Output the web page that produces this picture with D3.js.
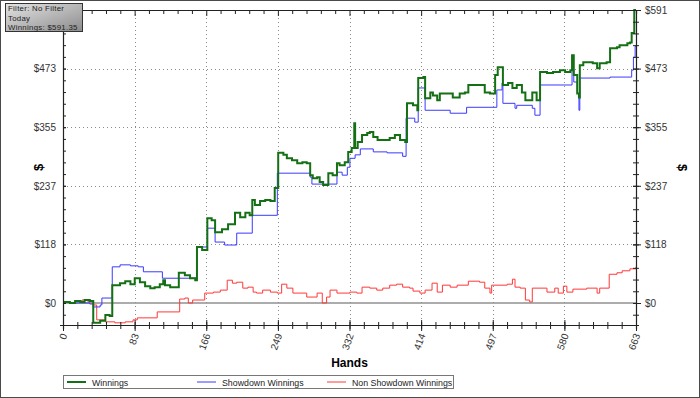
<!DOCTYPE html>
<meta charset="utf-8">
<script src="https://d3js.org/d3.v7.min.js"></script>
<style>
  body { margin: 0; background: #fff; }
  svg { display: block; font-family: "Liberation Sans", Arial, sans-serif; }
</style>
<div id="my_dataviz"></div>
<script>

// ---- data (hand number, cumulative $) ----
var winHands = [0,8,14,20,25,31,35,43,49,54,57,66,72,78,83,89,95,101,106,112,116,118,124,133,134,141,147,153,155,161,167,172,176,184,191,199,205,211,216,219,222,228,234,240,245,249,255,259,265,271,277,282,286,289,294,297,301,307,312,317,320,326,330,334,337,338,341,346,352,355,359,364,370,378,384,390,396,398,405,410,411,417,419,425,428,433,436,444,451,459,465,469,482,488,494,500,503,508,509,515,520,525,531,535,540,543,548,552,560,567,575,581,587,589,591,595,597,598,602,610,613,618,621,629,633,641,644,653,656,658,661,663];
var winValues = [2,0,4,2,6,4,-40,-36,-24,-26,36,40,44,38,50,42,34,30,32,38,46,36,32,32,61,56,50,46,113,107,171,167,143,149,159,182,173,182,177,208,198,206,208,206,232,303,299,292,288,282,284,282,258,252,254,244,238,262,258,282,278,284,305,313,363,313,325,339,343,345,335,329,329,333,339,329,325,403,399,389,454,456,413,425,419,409,423,423,415,423,425,440,440,425,423,460,476,476,440,444,434,440,425,409,409,425,409,466,464,466,470,466,470,500,460,423,415,480,486,486,484,474,484,486,514,516,520,524,526,545,591.35,591.35];

var sdHands = [0,8,20,31,35,43,45,57,66,78,87,93,115,155,167,176,187,201,219,248,286,288,317,323,329,332,338,344,359,375,393,397,407,411,419,448,467,502,508,509,523,525,543,546,552,589,591,595,597,598,633,658,660,662,663];
var sdValues = [2,0,0,-2,-8,-4,10,73,77,75,73,63,50,113,151,123,117,141,177,262,254,240,264,258,274,292,299,311,305,303,296,373,365,434,389,383,395,430,444,403,393,399,393,379,440,470,446,423,389,454,456,470,496,518,518];

var nsdHands = [0,8,14,22,29,35,39,49,60,72,81,86,109,135,141,145,150,164,174,182,190,196,201,208,214,220,224,231,240,248,253,259,266,282,294,300,305,309,317,332,340,346,355,363,370,378,386,393,401,405,413,419,427,433,439,448,456,469,482,488,494,496,514,520,523,529,535,540,543,560,569,573,579,583,590,606,618,621,632,641,647,656,663];
var nsdValues = [2,0,4,6,2,-4,-34,-38,-40,-38,-34,-30,-18,8,10,0,6,20,22,26,46,40,42,30,32,22,20,26,22,20,38,30,20,12,20,0,12,26,20,22,20,32,30,26,30,36,38,32,30,24,20,26,40,22,36,32,36,44,42,30,20,36,38,48,32,30,6,2,30,22,30,20,34,22,28,30,20,30,58,61,65,69,73];

var maxHands = 663;
var maxWin = 591.35;
var xTickLabels = ["0","83","166","249","332","414","497","580","663"];
var yTickLabels = ["$0","$118","$237","$355","$473","$591"];
var infoLines = ["Filter: No Filter", "Today", "Winnings: $591.35"];
var seriesNames = ["Winnings", "Showdown Winnings", "Non Showdown Winnings"];
var seriesColors = ["#157015", "#3a3aff", "#ff3838"];

function zip(h, v) { return h.map(function(d, i) { return {hand: d, value: v[i]}; }); }
var series = [zip(winHands, winValues), zip(sdHands, sdValues), zip(nsdHands, nsdValues)];

// ---- layout ----
var W = 700, H = 398;
var margin = {top: 10, left: 63, right: 64, bottom: 73};
var width = W - margin.left - margin.right,
    height = H - margin.top - margin.bottom;

var svg = d3.select("#my_dataviz").append("svg")
    .attr("width", W).attr("height", H);

// outer frame
svg.append("rect")
    .attr("x", 0.5).attr("y", 0.5).attr("width", W - 1).attr("height", H - 1)
    .attr("fill", "#fff").attr("stroke", "#4a4a4a");

var g = svg.append("g")
    .attr("transform", "translate(" + margin.left + "," + margin.top + ")");

var x = d3.scaleLinear().domain([0, maxHands]).range([0, width]);
var y = d3.scaleLinear().domain([-44.4, maxWin]).range([height, 0]);

var xMajor = d3.range(9).map(function(i) { return i * maxHands / 8; });
var xMinor = d3.range(41).map(function(i) { return i * maxHands / 40; });
var yMajor = d3.range(6).map(function(i) { return i * maxWin / 5; });
var yMinor = d3.range(-1, 26).map(function(i) { return i * maxWin / 25; });

// dotted grid
g.append("g").selectAll("line").data(xMajor.slice(1, -1)).join("line")
    .attr("x1", function(d) { return Math.round(x(d)) + 0.5; })
    .attr("x2", function(d) { return Math.round(x(d)) + 0.5; })
    .attr("y1", 0).attr("y2", height)
    .attr("stroke", "#8a8a8a").attr("stroke-dasharray", "1,3");
g.append("g").selectAll("line").data(yMajor.slice(1)).join("line")
    .attr("y1", function(d) { return Math.round(y(d)) + 0.5; })
    .attr("y2", function(d) { return Math.round(y(d)) + 0.5; })
    .attr("x1", 0).attr("x2", width)
    .attr("stroke", "#8a8a8a").attr("stroke-dasharray", "1,3");

// zero line
g.append("line")
    .attr("x1", 0).attr("x2", width)
    .attr("y1", y(0)).attr("y2", y(0))
    .attr("stroke", "#909090").attr("stroke-width", 1.5);

// series lines
var line = d3.line()
    .x(function(d) { return x(d.hand); })
    .y(function(d) { return y(d.value); })
    .curve(d3.curveStepAfter);

[2, 1, 0].forEach(function(i) {
  g.append("path")
    .datum(series[i])
    .attr("fill", "none")
    .attr("stroke", seriesColors[i])
    .attr("stroke-width", i === 0 ? 2 : 1)
    .attr("d", line);
});

// axes: built from d3 axes, then ticks restyled to cross the line
function styleAxis(sel) {
  sel.select(".domain").attr("stroke", "#222").attr("stroke-width", 1.2);
  sel.selectAll(".tick line").attr("stroke", "#222");
  sel.selectAll(".tick text").remove();   // minor axes carry no labels
}

var bottomMinor = g.append("g").attr("transform", "translate(0," + height + ")")
    .call(d3.axisBottom(x).tickValues(xMinor).tickSize(4));
bottomMinor.selectAll(".tick line").attr("y1", -3);
styleAxis(bottomMinor);
var bottomMajor = g.append("g").attr("transform", "translate(0," + height + ")")
    .call(d3.axisBottom(x).tickValues(xMajor).tickSize(6)
      .tickFormat(function(d, i) { return xTickLabels[i]; }));
bottomMajor.select(".domain").remove();
bottomMajor.selectAll(".tick line").attr("y1", -5).attr("stroke", "#222");
bottomMajor.selectAll(".tick text")
    .attr("fill", "#333").style("font-size", "10px")
    .attr("text-anchor", "end")
    .attr("dx", 0).attr("dy", 0)
    .attr("transform", "translate(4,10) rotate(-70)")
    .attr("y", 0).attr("x", 0);

var topAxis = g.append("g")
    .call(d3.axisBottom(x).tickValues(xMinor).tickSize(4));
styleAxis(topAxis);
topAxis.selectAll(".tick line").attr("y2", function(d, i) { return i % 5 === 0 ? 6 : 4; });

var leftMinor = g.append("g")
    .call(d3.axisLeft(y).tickValues(yMinor).tickSize(3));
leftMinor.selectAll(".tick line").attr("x2", 3);
styleAxis(leftMinor);
var leftMajor = g.append("g")
    .call(d3.axisLeft(y).tickValues(yMajor).tickSize(5)
      .tickFormat(function(d, i) { return yTickLabels[i]; }));
leftMajor.select(".domain").remove();
leftMajor.selectAll(".tick line").attr("x2", 3).attr("stroke", "#222");
leftMajor.selectAll(".tick text").attr("fill", "#333").style("font-size", "10px").attr("x", -7);

var rightMinor = g.append("g").attr("transform", "translate(" + width + ",0)")
    .call(d3.axisRight(y).tickValues(yMinor).tickSize(3));
rightMinor.selectAll(".tick line").attr("x1", -3);
styleAxis(rightMinor);
var rightMajor = g.append("g").attr("transform", "translate(" + width + ",0)")
    .call(d3.axisRight(y).tickValues(yMajor).tickSize(5)
      .tickFormat(function(d, i) { return yTickLabels[i]; }));
rightMajor.select(".domain").remove();
rightMajor.selectAll(".tick line").attr("x1", -3).attr("stroke", "#222");
rightMajor.selectAll(".tick text").attr("fill", "#333").style("font-size", "10px").attr("x", 9);

// axis titles
g.append("text")
    .attr("x", width / 2).attr("y", height + 42)
    .attr("text-anchor", "middle")
    .style("font-size", "12px").style("font-weight", "bold")
    .text("Hands");
g.append("text")
    .attr("transform", "translate(" + (-20) + "," + (height / 2) + ") rotate(-90)")
    .attr("text-anchor", "middle")
    .style("font-size", "13px").style("font-weight", "bold")
    .text("$");
g.append("text")
    .attr("transform", "translate(" + (width + 42) + "," + (height / 2) + ") rotate(90)")
    .attr("text-anchor", "middle")
    .style("font-size", "13px").style("font-weight", "bold")
    .text("$");

// legend
var legend = svg.append("g").attr("transform", "translate(63,375)");
legend.append("rect")
    .attr("x", 0.5).attr("y", 0.5).attr("width", 390).attr("height", 13)
    .attr("fill", "#fff").attr("stroke", "#777");
var item = legend.selectAll(".item").data(seriesNames).join("g")
    .attr("transform", function(d, i) { return "translate(" + (i * 130) + ",0)"; });
item.append("line")
    .attr("x1", 4).attr("x2", 23).attr("y1", 7).attr("y2", 7)
    .attr("stroke", function(d, i) { return seriesColors[i]; })
    .attr("stroke-width", function(d, i) { return i === 0 ? 2 : 1; });
item.append("text")
    .attr("x", 29).attr("y", 10.5)
    .style("font-size", "8.8px").attr("fill", "#222")
    .text(function(d) { return d; });

// info box top-left (one text block, one tspan per line)
var defs = svg.append("defs");
var grad = defs.append("linearGradient").attr("id", "boxgrad")
    .attr("x1", "0").attr("y1", "0").attr("x2", "1").attr("y2", "1");
grad.append("stop").attr("offset", "0%").attr("stop-color", "#e4e4e4");
grad.append("stop").attr("offset", "100%").attr("stop-color", "#8c8c8c");
var info = svg.append("g").attr("transform", "translate(5,3)");
info.append("rect")
    .attr("x", 0.5).attr("y", 0.5).attr("width", 77).attr("height", 28)
    .attr("fill", "url(#boxgrad)").attr("stroke", "#333");
info.append("text")
    .style("font-size", "7.8px").style("letter-spacing", "0.3px").attr("fill", "#222")
  .selectAll("tspan").data(infoLines).join("tspan")
    .attr("x", 3).attr("y", function(d, i) { return 8.3 + i * 9.2; })
    .text(function(d) { return d; });

</script>
